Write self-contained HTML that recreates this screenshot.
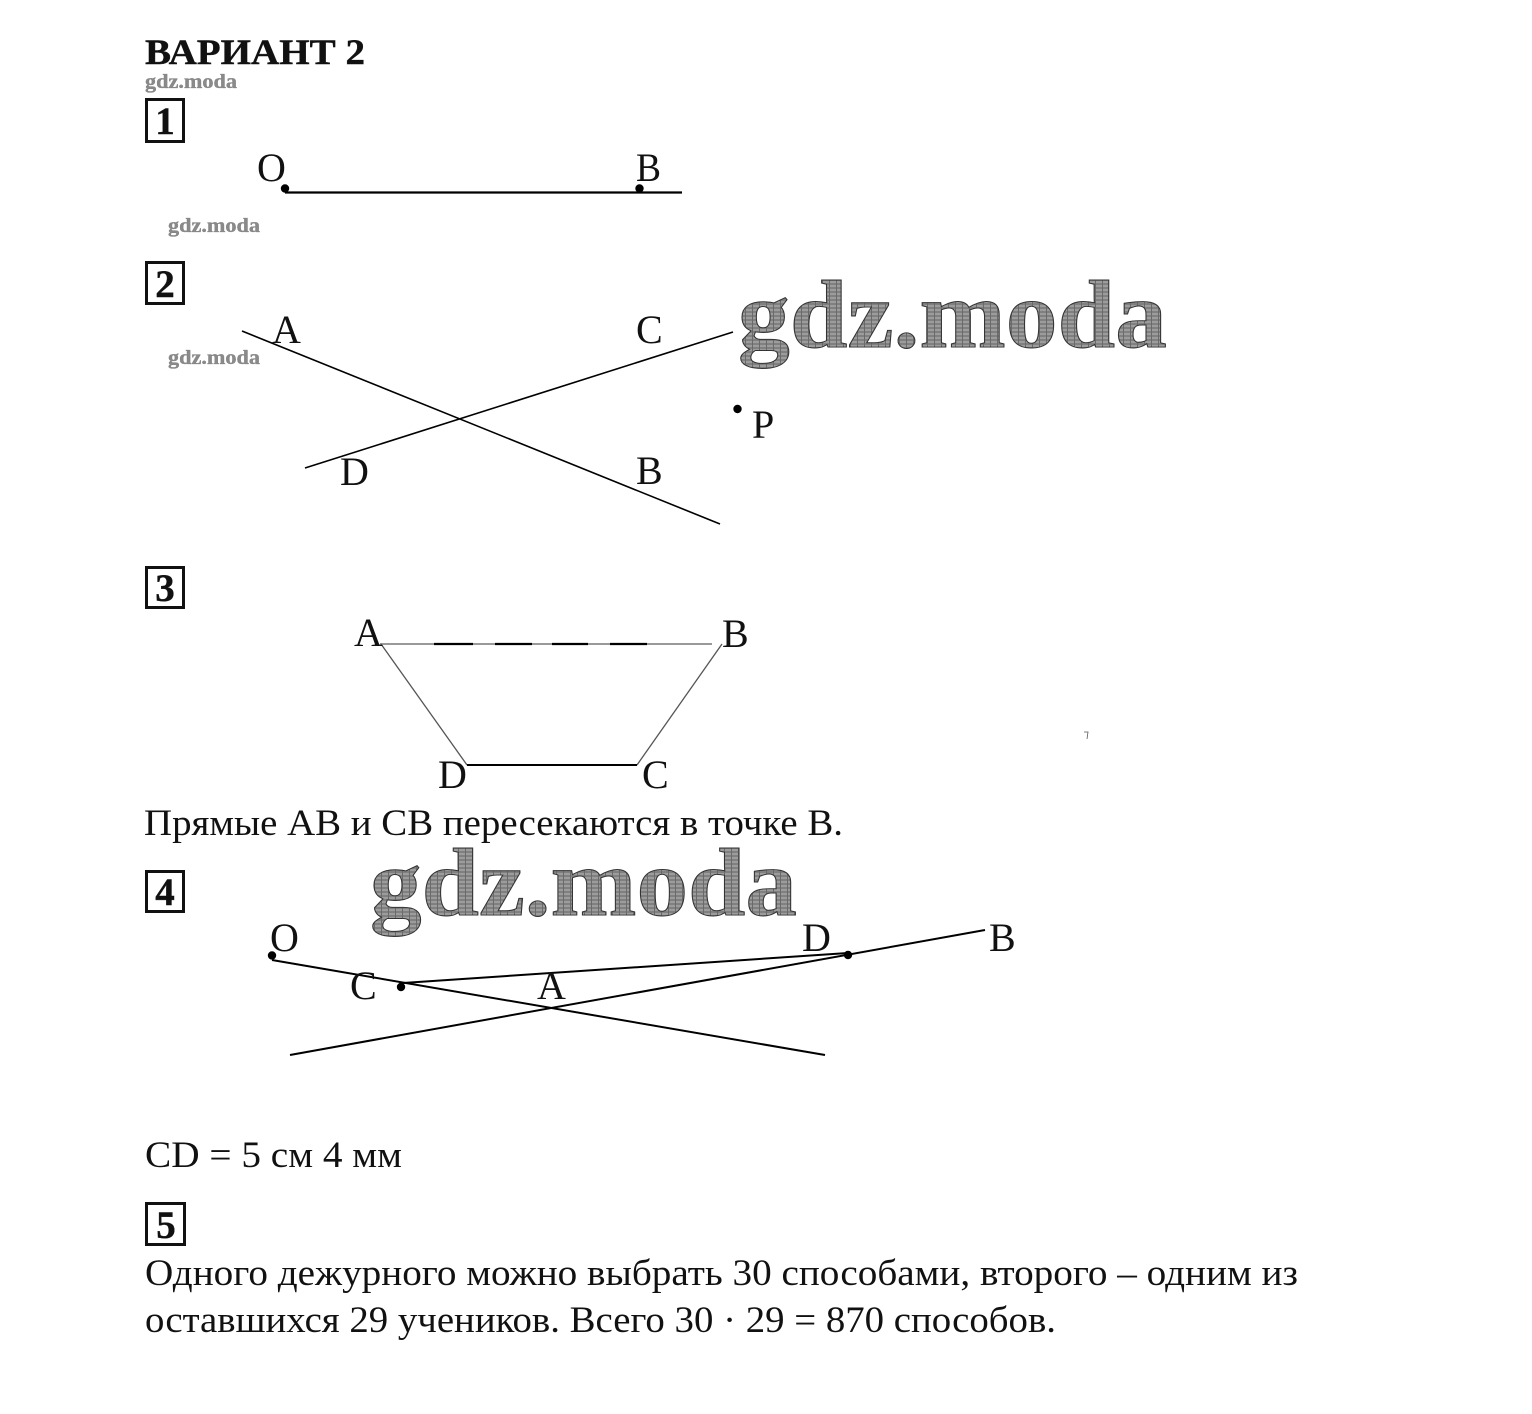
<!DOCTYPE html>
<html><head><meta charset="utf-8"><style>
html,body{margin:0;padding:0;background:#fff}
svg{display:block}
text{font-family:"Liberation Serif",serif;fill:#111}
.b{font-weight:bold;stroke:#111;stroke-width:.4}
.t{font-size:37px}
.l{font-size:40px}
.n{font-size:39px;font-weight:bold;text-anchor:middle;stroke:#111;stroke-width:.4}
.w{font-size:20px;font-weight:bold;fill:#8a8a8a;stroke:#777;stroke-width:.3}
.W{font-size:96px;font-weight:bold;fill:url(#h);stroke:#333;stroke-width:1}
.s{stroke:#000;fill:none}
.box{fill:none;stroke:#111;stroke-width:3}
</style></head><body>
<svg width="1532" height="1414" viewBox="0 0 1532 1414" xmlns="http://www.w3.org/2000/svg">
<defs><pattern id="h" width="7" height="4" patternUnits="userSpaceOnUse">
<rect width="7" height="4" fill="#808080"/><rect y="1.5" width="7" height="1" fill="#b8b8b8"/><rect x="3" width="1" height="4" fill="#6a6a6a"/>
</pattern></defs>
<rect width="1532" height="1414" fill="#fff"/>

<text class="b" x="145" y="64" font-size="36" textLength="220" lengthAdjust="spacingAndGlyphs">ВАРИАНТ 2</text>
<text class="w" x="145" y="88" textLength="92" lengthAdjust="spacingAndGlyphs">gdz.moda</text>
<text class="w" x="168" y="232" textLength="92" lengthAdjust="spacingAndGlyphs">gdz.moda</text>
<text class="w" x="168" y="364" textLength="92" lengthAdjust="spacingAndGlyphs">gdz.moda</text>

<rect class="box" x="146.500" y="99.500" width="37" height="42"/><text class="n" x="165" y="134">1</text>
<rect class="box" x="146.500" y="262.500" width="37" height="41"/><text class="n" x="165" y="297">2</text>
<rect class="box" x="146.500" y="567.500" width="37" height="40"/><text class="n" x="165" y="601">3</text>
<rect class="box" x="146.500" y="871.500" width="37" height="40"/><text class="n" x="165" y="905">4</text>
<rect class="box" x="146.500" y="1203.500" width="38" height="41"/><text class="n" x="166" y="1238">5</text>

<!-- 1 -->
<line class="s" x1="285" y1="192.500" x2="682" y2="192.500" stroke-width="2.200"/>
<circle cx="285" cy="188.500" r="4.200"/><circle cx="639.500" cy="188.500" r="4.200"/>
<text class="l" x="257" y="181">O</text><text class="l" x="636" y="181" textLength="25" lengthAdjust="spacingAndGlyphs">B</text>

<!-- 2 -->
<line class="s" x1="242" y1="331" x2="720" y2="524" stroke-width="1.600"/>
<line class="s" x1="305" y1="468" x2="733" y2="332" stroke-width="1.600"/>
<circle cx="737.500" cy="409" r="4.200"/>
<text class="l" x="272" y="343">A</text><text class="l" x="636" y="343">C</text>
<text class="l" x="340" y="485">D</text><text class="l" x="636" y="484">B</text>
<text class="l" x="752" y="438">P</text>
<text class="W" x="738" y="347" textLength="429" lengthAdjust="spacingAndGlyphs">gdz.moda</text>

<!-- 3 -->
<line x1="380" y1="644" x2="712" y2="644" stroke="#999" stroke-width="2"/>
<g stroke="#000" stroke-width="2.200"><line x1="434" y1="644" x2="473" y2="644"/><line x1="495" y1="644" x2="532" y2="644"/><line x1="552" y1="644" x2="588" y2="644"/><line x1="610" y1="644" x2="647" y2="644"/></g>
<line x1="381" y1="644" x2="467" y2="765" stroke="#555" stroke-width="1.300"/>
<line x1="722" y1="644" x2="637" y2="765" stroke="#555" stroke-width="1.300"/>
<line class="s" x1="467" y1="765" x2="637" y2="765" stroke-width="2"/>
<text class="l" x="354" y="646">A</text><text class="l" x="722" y="647">B</text>
<text class="l" x="438" y="788">D</text><text class="l" x="642" y="788">C</text>
<text class="t" x="144" y="835" textLength="699" lengthAdjust="spacingAndGlyphs">Прямые AB и CB пересекаются в точке B.</text>
<path d="M1084 732h4l-1 7" fill="none" stroke="#555" stroke-width=".8"/>

<!-- 4 -->
<text class="W" x="370" y="915" textLength="427" lengthAdjust="spacingAndGlyphs">gdz.moda</text>
<line class="s" x1="272" y1="960" x2="825" y2="1055" stroke-width="2"/>
<line class="s" x1="290" y1="1055" x2="985" y2="930" stroke-width="2"/>
<line class="s" x1="403" y1="983" x2="848" y2="953" stroke-width="2"/>
<circle cx="272" cy="955.500" r="4.200"/><circle cx="401" cy="987" r="4.200"/><circle cx="848" cy="955" r="4.200"/>
<text class="l" x="270" y="951">O</text><text class="l" x="350" y="999">C</text><text class="l" x="537" y="999">A</text>
<text class="l" x="802" y="951">D</text><text class="l" x="989" y="951">B</text>

<text class="t" x="145" y="1167" textLength="257" lengthAdjust="spacingAndGlyphs">CD = 5 см 4 мм</text>
<text class="t" x="145" y="1285" textLength="1153" lengthAdjust="spacingAndGlyphs">Одного дежурного можно выбрать 30 способами, второго – одним из</text>
<text class="t" x="145" y="1332" textLength="911" lengthAdjust="spacingAndGlyphs">оставшихся 29 учеников. Всего 30 · 29 = 870 способов.</text>
</svg>
</body></html>
